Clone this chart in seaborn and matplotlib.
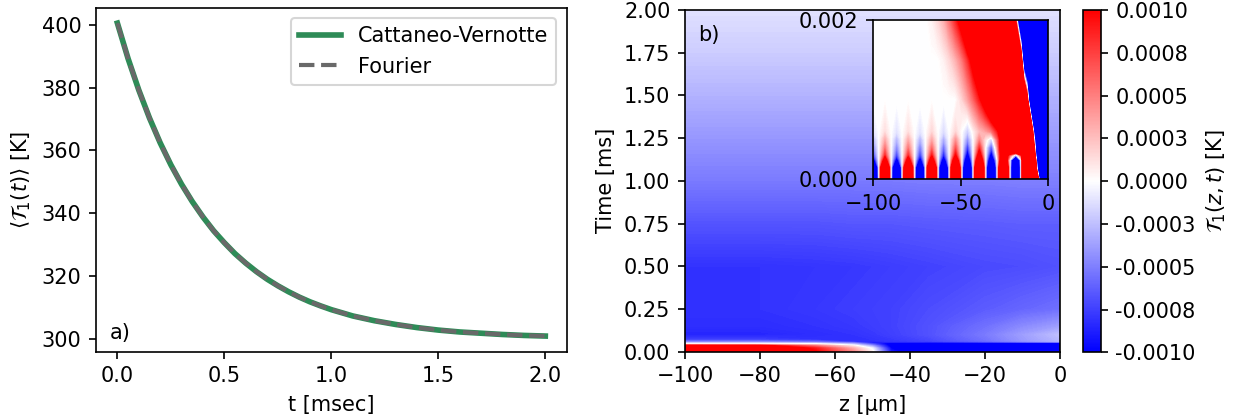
import numpy as np
import pandas as pd
import seaborn as sns
import matplotlib.pyplot as plt
from matplotlib.colors import Normalize
from matplotlib.cm import ScalarMappable

DPI = 150

# panel a) : mean temperature vs time (read off the curve)
t_ms = [0.0, 0.05, 0.1, 0.15, 0.2, 0.25, 0.3, 0.35, 0.4, 0.45, 0.5, 0.55, 0.6, 0.65,
        0.7, 0.75, 0.8, 0.85, 0.9, 0.95, 1.0, 1.1, 1.2, 1.3, 1.4, 1.5, 1.6, 1.7, 1.8,
        1.9, 2.0]
T_cv = [400.5, 389.2, 379.2, 370.3, 362.4, 355.4, 349.2, 343.7, 338.8, 334.4, 330.6,
        327.1, 324.1, 321.4, 319.0, 316.9, 315.0, 313.3, 311.8, 310.5, 309.3, 307.3,
        305.8, 304.6, 303.6, 302.8, 302.2, 301.8, 301.4, 301.1, 300.9]
T_fourier = [400.5, 389.2, 379.2, 370.3, 362.4, 355.4, 349.2, 343.7, 338.8, 334.4, 330.6,
             327.1, 324.1, 321.4, 319.0, 316.9, 315.0, 313.3, 311.8, 310.5, 309.3, 307.3,
             305.8, 304.6, 303.6, 302.8, 302.2, 301.8, 301.4, 301.1, 300.9]

# panel b) : T1(z,t) in units of 1e-3 K, rows = t_main, cols = z_main
z_main = [-100, -80, -65, -55, -50, -45, -35, -20, -10, 0]
t_main = [0, 0.02, 0.035, 0.045, 0.053, 0.058, 0.07, 0.1, 0.15, 0.25, 0.5, 0.75,
          1.0, 1.25, 1.5, 1.75, 2.0]
T1_main = [
    [1.5, 1.5, 1.0, 0.45, 0.05, -0.9, -1.3, -1.3, -1.3, -1.3],
    [1.5, 1.5, 0.9, 0.3, -0.05, -1.0, -1.3, -1.3, -1.3, -1.3],
    [1.2, 1.1, 0.5, 0.05, -0.4, -1.1, -1.3, -1.3, -1.3, -1.3],
    [0.05, 0.05, 0.0, -0.3, -0.7, -1.1, -1.3, -1.3, -1.3, -1.3],
    [-0.3, -0.3, -0.4, -0.6, -0.9, -1.0, -1.2, -1.2, -1.2, -1.2],
    [-0.5, -0.5, -0.6, -0.8, -0.85, -0.8, -0.75, -0.6, -0.45, -0.3],
    [-0.75, -0.75, -0.8, -0.8, -0.8, -0.78, -0.72, -0.55, -0.4, -0.28],
    [-0.85, -0.85, -0.82, -0.8, -0.78, -0.75, -0.68, -0.52, -0.38, -0.25],
    [-0.82, -0.82, -0.8, -0.78, -0.76, -0.74, -0.68, -0.56, -0.46, -0.38],
    [-0.8, -0.8, -0.78, -0.76, -0.75, -0.74, -0.7, -0.64, -0.6, -0.56],
    [-0.8, -0.8, -0.79, -0.78, -0.77, -0.76, -0.74, -0.71, -0.7, -0.68],
    [-0.67, -0.67, -0.67, -0.66, -0.66, -0.66, -0.65, -0.64, -0.63, -0.63],
    [-0.52, -0.52, -0.52, -0.52, -0.52, -0.52, -0.51, -0.51, -0.5, -0.5],
    [-0.41, -0.41, -0.41, -0.41, -0.41, -0.41, -0.41, -0.4, -0.4, -0.4],
    [-0.3, -0.3, -0.3, -0.3, -0.3, -0.3, -0.3, -0.3, -0.3, -0.3],
    [-0.2, -0.2, -0.2, -0.2, -0.2, -0.2, -0.2, -0.2, -0.2, -0.2],
    [-0.12, -0.12, -0.12, -0.12, -0.12, -0.12, -0.12, -0.12, -0.12, -0.12],
]

# inset: first 0.002 ms, same units
z_ins = [-100, -96.6, -93.3, -90.0, -86.6, -83.3, -80.0, -76.6, -73.3, -70.0, -66.6,
         -63.2, -59.8, -56.4, -53.0, -49.6, -46.2, -42.8, -39.4, -36.0, -32.6, -29.1,
         -25.6, -22.1, -18.6, -15.5, -14, -12, -10, -8, -6, -4, -2, 0]
t_ins = [0, 0.00015, 0.00024, 0.0003, 0.0004, 0.0005, 0.0006, 0.001, 0.0015, 0.002]
T1_ins = [
    [-4, 0, 4, 0, -4, 0, 4, 0, -4, 0, 4, 0, -4, 0, 4, 0, -4, 0,
     4, 0, -4, 0, 4, 0, -4, 0, 3, 4, 4, 4, 2, -4, -4, -4],
    [-3.5, 0, 3.5, 0, -3.5, 0, 3.5, 0, -3.5, 0, 3.5, 0, -3.6, 0, 3.6, 0, -3.8, 0,
     3.8, 0, -3.8, 0, 3.8, 0, -4, 0, 3, 4, 4, 4, -1.6, -4, -4, -4],
    [-1.3, 0, 1.3, 0, -1.3, 0, 1.3, 0, -1.35, 0, 1.4, 0, -1.5, 0, 1.6, 0, -2.0, 0,
     2.0, 0, -2.0, 0, 2.2, 0, -3, 0, 3, 4, 4, 3.5, -2.5, -4, -4, -4],
    [-0.8, 0, 0.8, 0, -0.8, 0, 0.8, 0, -0.85, 0, 0.9, 0, -0.95, 0, 1.0, 0, -1.3, 0,
     1.3, 0, -1.3, 0.2, 1.8, 0.6, -0.5, 0.8, 3, 4, 4, 2.5, -4, -4, -4, -4],
    [-0.5, 0, 0.5, 0, -0.5, 0, 0.5, 0, -0.55, 0, 0.55, 0, -0.6, 0, 0.65, 0, -0.8, 0,
     0.8, 0, -0.7, 0.4, 1.8, 3, 4, 4, 4, 4, 4, 1, -4, -4, -4, -4],
    [-0.3, 0, 0.3, 0, -0.3, 0, 0.3, 0, -0.32, 0, 0.32, 0, -0.35, 0, 0.4, 0, -0.45, 0,
     0.45, 0.1, -0.2, 0.6, 1.5, 3, 4, 4, 4, 4, 4, -0.2, -4, -4, -4, -4],
    [-0.12, 0, 0.12, 0, -0.12, 0, 0.12, 0, -0.12, 0, 0.15, 0, -0.15, 0, 0.15, 0, -0.2, 0.05,
     0.25, 0.35, 0.5, 0.9, 1.6, 3, 4, 4, 4, 4, 4, -1.5, -4, -4, -4, -4],
    [0, 0, 0, 0, 0, 0, 0, 0, 0, 0, 0, 0, 0, 0, 0, 0.15, 0.35, 0.6,
     0.9, 1.3, 2, 2.6, 4, 4, 4, 4, 4, 1.5, -4, -4, -4, -4, -4, -4],
    [0, 0, 0, 0, 0, 0, 0, 0, 0, 0, 0, 0, 0.05, 0.15, 0.3, 0.5, 0.8, 1.2,
     1.8, 2.5, 3.5, 4, 4, 4, 4, 2, -2.3, -4, -4, -4, -4, -4, -4, -4],
    [0, 0, 0, 0, 0, 0, 0, 0, 0, 0, 0.05, 0.15, 0.3, 0.55, 0.85, 1.2, 1.8, 2.5,
     3.2, 4, 4, 4, 4, 4, 0.8, -4, -4, -4, -4, -4, -4, -4, -4, -4],
]

cb_ticks = [-0.001, -0.00075, -0.0005, -0.00025, 0.0, 0.00025, 0.0005, 0.00075, 0.001]
cb_labels = ['-0.0010', '-0.0008', '-0.0005', '-0.0003', '0.0000',
             '0.0003', '0.0005', '0.0008', '0.0010']

fig = plt.figure(figsize=(1234 / DPI, 419 / DPI), dpi=DPI)

# ---- a)
ax1 = fig.add_axes([96 / 1234, 67.3 / 419, 470.7 / 1234, 344.2 / 419])
df = pd.DataFrame({'t': t_ms, 'cv': T_cv, 'fourier': T_fourier})
sns.lineplot(data=df, x='t', y='cv', ax=ax1, color='seagreen', lw=2.7,
             label='Cattaneo-Vernotte')
sns.lineplot(data=df, x='t', y='fourier', ax=ax1, color='dimgray', lw=2,
             ls='--', label='Fourier')
ax1.set_xlabel('t [msec]')
ax1.set_ylabel(r'$\langle \mathcal{T}_1(t) \rangle$ [K]')
ax1.set_xticks([0.0, 0.5, 1.0, 1.5, 2.0])
ax1.set_yticks([300, 320, 340, 360, 380, 400])
ax1.legend(loc='upper right')
ax1.text(0.03, 0.025, 'a)', transform=ax1.transAxes, va='bottom', ha='left')

# ---- b)
norm = Normalize(vmin=-1e-3, vmax=1e-3)
levels = np.linspace(-1e-3, 1e-3, 201)

ax2 = fig.add_axes([685 / 1234, 67.3 / 419, 375 / 1234, 341.7 / 419])
ax2.contourf(z_main, t_main, np.array(T1_main) * 1e-3, levels=levels, cmap='bwr',
             norm=norm, extend='both', antialiased=False)
ax2.set_xlim(-100, 0)
ax2.set_ylim(0, 2)
ax2.set_xticks([-100, -80, -60, -40, -20, 0])
ax2.set_yticks([0, 0.25, 0.5, 0.75, 1.0, 1.25, 1.5, 1.75, 2.0])
ax2.set_xlabel('z [μm]')
ax2.set_ylabel('Time [ms]')
ax2.text(0.035, 0.955, 'b)', transform=ax2.transAxes, va='top', ha='left')

axins = ax2.inset_axes([0.502, 0.5045, 0.467, 0.466])
axins.contourf(z_ins, t_ins, np.array(T1_ins) * 1e-3, levels=levels, cmap='bwr',
               norm=norm, extend='both', antialiased=False)
axins.set_xlim(-100, 0)
axins.set_ylim(0, 0.002)
axins.set_xticks([-100, -50, 0])
axins.set_yticks([0, 0.002])
axins.set_yticklabels(['0.000', '0.002'])

cax = fig.add_axes([1082.7 / 1234, 66.7 / 419, 18 / 1234, 342.3 / 419])
cb = fig.colorbar(ScalarMappable(norm=norm, cmap='bwr'), cax=cax)
cb.set_ticks(cb_ticks, labels=cb_labels)
cb.set_label(r'$\mathcal{T}_1(z,t)$ [K]')

fig.savefig('out.png', dpi=DPI)
